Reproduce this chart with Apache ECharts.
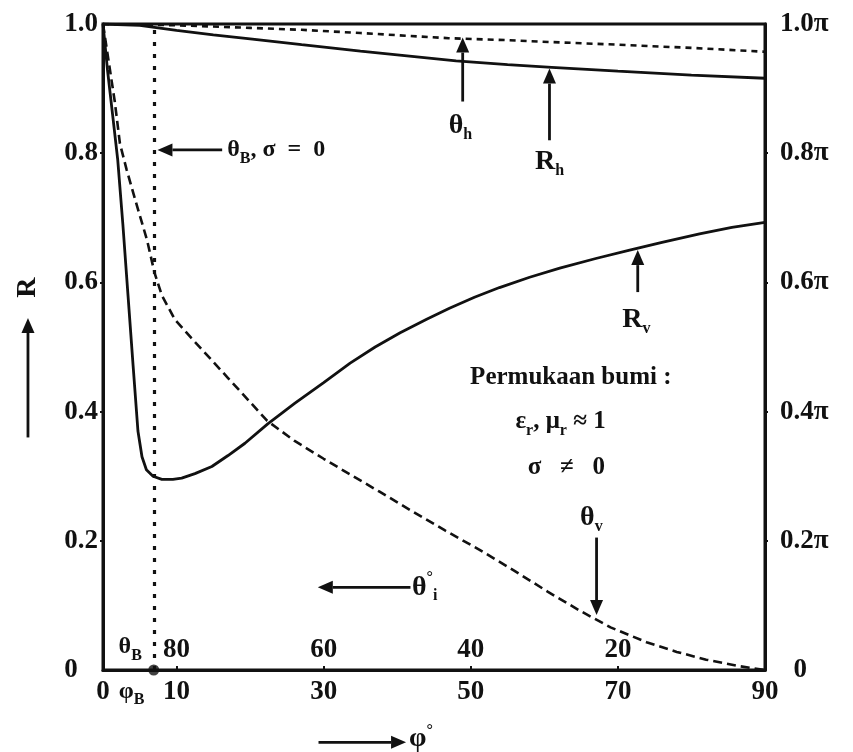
<!DOCTYPE html>
<html>
<head>
<meta charset="utf-8">
<script src="https://cdn.jsdelivr.net/npm/echarts@6/dist/echarts.min.js"></script>
<style>
  html, body { margin: 0; padding: 0; background: #fff; }
  #chart { width: 853px; height: 752px; }
</style>
</head>
<body>
<div id="chart"></div>
<script>
// Incidence angle φ (degrees) and reflection magnitude / phase over the earth's surface
const phiRv = [0, 0.6, 1.3, 2.0, 2.7, 3.4, 4.1, 4.75, 5.3, 5.9, 6.8, 8.0, 9.5, 10.7, 12.5, 14.8, 17, 19.3, 22.4, 26.1, 30, 33.6, 37, 40.4, 44, 47.1, 50.5, 53.9, 58, 62.1, 67, 71.6, 76, 81.1, 85.5, 90];
const Rv    = [1.0, 0.93, 0.86, 0.79, 0.69, 0.58, 0.47, 0.37, 0.33, 0.31, 0.30, 0.295, 0.295, 0.297, 0.304, 0.315, 0.332, 0.351, 0.381, 0.413, 0.445, 0.475, 0.50, 0.522, 0.543, 0.56, 0.577, 0.592, 0.608, 0.622, 0.637, 0.65, 0.662, 0.675, 0.685, 0.693];

const phiTv = [0, 1.6, 2.3, 3.2, 4.2, 5.1, 6.0, 7.0, 8.0, 9.8, 12, 14.5, 17, 19.5, 22.3, 26, 30, 34, 37.6, 42, 46.5, 51.2, 56, 60.5, 64.8, 69, 73.9, 78, 82, 86.5, 90];
const Tv    = [1.0, 0.88, 0.815, 0.775, 0.735, 0.70, 0.665, 0.615, 0.58, 0.542, 0.514, 0.483, 0.452, 0.421, 0.386, 0.355, 0.327, 0.30, 0.276, 0.246, 0.216, 0.186, 0.153, 0.121, 0.092, 0.066, 0.043, 0.028, 0.016, 0.006, 0];

const phiRh = [0, 5, 10, 15, 20, 27, 35, 42, 48, 55, 61, 70, 80, 90];
const Rh    = [1.0, 0.998, 0.99, 0.983, 0.977, 0.968, 0.958, 0.95, 0.943, 0.937, 0.933, 0.927, 0.921, 0.916];

const phiTh = [0, 10, 20, 27, 35, 47, 55, 61, 70, 80, 90];
const Th    = [1.0, 0.998, 0.994, 0.991, 0.986, 0.978, 0.975, 0.972, 0.968, 0.963, 0.957];

// Brewster angle for a lossless surface (degrees)
const phiBrewster = 6.9;

// Tick labels
const phiTicks = [0, 10, 30, 50, 70, 90];
const thetaITicks = [80, 60, 40, 20];
const rTicks = [0, 0.2, 0.4, 0.6, 0.8, 1.0];

const zip = (xs, ys) => xs.map((x, i) => [x, ys[i]]);

const FONT = 'Liberation Serif';
const INK = '#111';
const lbl = { color: INK, fontFamily: FONT, fontWeight: 'bold', fontSize: 27 };

const chart = echarts.init(document.getElementById('chart'), null, { renderer: 'canvas' });

chart.setOption({
  animation: false,
  backgroundColor: '#fff',
  grid: { left: 103, right: 88, top: 24, bottom: 82, show: true, borderColor: INK, borderWidth: 3 },
  xAxis: [
    {
      type: 'value', min: 0, max: 90, interval: 10, position: 'bottom',
      axisLine: { show: true, lineStyle: { color: INK, width: 3 } },
      axisTick: { show: true, inside: true, length: 4, customValues: [10, 30, 50, 70], lineStyle: { color: INK, width: 2 } },
      axisLabel: Object.assign({ customValues: phiTicks, margin: 9 }, lbl),
      splitLine: { show: false }
    },
    {
      // complementary angle θi = 90° − φ, read right-to-left inside the plot
      type: 'value', min: 0, max: 90, interval: 10, inverse: true, position: 'bottom',
      axisLine: { show: false }, axisTick: { show: false },
      axisLabel: Object.assign({ customValues: thetaITicks, inside: true, margin: 6 }, lbl),
      splitLine: { show: false }
    }
  ],
  yAxis: [
    {
      type: 'value', min: 0, max: 1, interval: 0.2, position: 'left',
      axisLine: { show: true, lineStyle: { color: INK, width: 3 } },
      axisTick: { show: true, length: 3, customValues: [0.2, 0.4, 0.6, 0.8], lineStyle: { color: INK, width: 2 } },
      axisLabel: Object.assign({ customValues: rTicks, margin: 5,
        formatter: v => v === 0 ? '0   ' : v.toFixed(1) }, lbl),
      splitLine: { show: false }
    },
    {
      type: 'value', min: 0, max: 1, interval: 0.2, position: 'right',
      axisLine: { show: true, lineStyle: { color: INK, width: 3 } },
      axisTick: { show: true, length: 3, customValues: [0.2, 0.4, 0.6, 0.8], lineStyle: { color: INK, width: 2 } },
      axisLabel: Object.assign({ customValues: rTicks, margin: 15,
        formatter: v => v === 0 ? '  0' : v.toFixed(1) + 'π' }, lbl),
      splitLine: { show: false }
    }
  ],
  series: [
    {
      name: 'Rv', type: 'line', xAxisIndex: 0, yAxisIndex: 0, data: zip(phiRv, Rv),
      showSymbol: false, smooth: false,
      lineStyle: { color: INK, width: 2.8 },
      markLine: {
        silent: true, symbol: ['none', 'none'], label: { show: false },
        lineStyle: { color: INK, width: 3.2, type: [4, 8] },
        data: [{ xAxis: phiBrewster }]
      }
    },
    {
      name: 'Rh', type: 'line', xAxisIndex: 0, yAxisIndex: 0, data: zip(phiRh, Rh),
      showSymbol: false, smooth: false, lineStyle: { color: INK, width: 2.8 }
    },
    {
      name: 'θv', type: 'line', xAxisIndex: 0, yAxisIndex: 1, data: zip(phiTv, Tv),
      showSymbol: false, smooth: false,
      lineStyle: { color: INK, width: 2.6, type: [9, 5] }
    },
    {
      name: 'θh', type: 'line', xAxisIndex: 0, yAxisIndex: 1, data: zip(phiTh, Th),
      showSymbol: false, smooth: false, lineStyle: { color: INK, width: 2.6, type: [6, 5] }
    },
    {
      name: 'Brewster', type: 'scatter', xAxisIndex: 0, yAxisIndex: 0,
      data: [[phiBrewster, 0]], symbol: 'circle', symbolSize: 11,
      itemStyle: { color: INK }, z: 5
    }
  ]
});

// ---- annotations (placed in data coordinates) ----
const px = (x, y) => chart.convertToPixel({ xAxisIndex: 0, yAxisIndex: 0 }, [x, y]);

function arrow(from, to, head, width) {
  const a = px(from[0], from[1]);
  const b = px(to[0], to[1]);
  const dx = b[0] - a[0], dy = b[1] - a[1];
  const len = Math.hypot(dx, dy);
  const ux = dx / len, uy = dy / len;
  const hl = head || 15, hw = width || 6.5;
  const base = [b[0] - ux * hl, b[1] - uy * hl];
  return [
    { type: 'line', shape: { x1: a[0], y1: a[1], x2: base[0], y2: base[1] }, style: { stroke: INK, lineWidth: 2.8 } },
    { type: 'polygon', shape: { points: [b, [base[0] - uy * hw, base[1] + ux * hw], [base[0] + uy * hw, base[1] - ux * hw]] }, style: { fill: INK } }
  ];
}

const rich = {
  m: { fontFamily: FONT, fontWeight: 'bold', fontSize: 28, fill: INK, color: INK },
  s: { fontFamily: FONT, fontWeight: 'bold', fontSize: 16, fill: INK, color: INK, verticalAlign: 'bottom', padding: [18, 0, 0, 0] },
  u: { fontFamily: FONT, fontWeight: 'bold', fontSize: 16, fill: INK, color: INK, verticalAlign: 'top', padding: [0, 0, 16, 0] },
  t: { fontFamily: FONT, fontWeight: 'bold', fontSize: 25, fill: INK, color: INK },
  k: { fontFamily: FONT, fontWeight: 'bold', fontSize: 24, fill: INK, color: INK }
};

function text(x, y, str, align, rot) {
  const p = px(x, y);
  return {
    type: 'text', x: p[0], y: p[1], rotation: rot || 0,
    style: { text: str, rich: rich, align: align || 'center', verticalAlign: 'middle', fill: INK }
  };
}

const g = [];
// Brewster angle marker
g.push(...arrow([16.2, 0.805], [7.4, 0.805]));
g.push(text(16.9, 0.805, '{k|θ}{s|B}{k|, σ  =  0}', 'left'));
// θh
g.push(...arrow([48.9, 0.88], [48.9, 0.979]));
g.push(text(48.6, 0.842, '{m|θ}{s|h}'));
// Rh
g.push(...arrow([60.7, 0.82], [60.7, 0.931]));
g.push(text(60.7, 0.786, '{m|R}{s|h}'));
// Rv
g.push(...arrow([72.7, 0.585], [72.7, 0.65]));
g.push(text(72.5, 0.542, '{m|R}{s|v}'));
// surface description
g.push(text(63.6, 0.452, '{t|Permukaan bumi :}'));
g.push(text(62.2, 0.384, '{t|ε}{s|r}{t|, μ}{s|r}{t| ≈ 1}'));
g.push(text(63.0, 0.314, '{t|σ   ≠   0}'));
// θv
g.push(text(66.4, 0.236, '{m|θ}{s|v}'));
g.push(...arrow([67.1, 0.205], [67.1, 0.085]));
// θi direction
g.push(...arrow([41.8, 0.128], [29.2, 0.128]));
g.push(text(42.0, 0.128, '{m|θ}{u|°}{s|i}', 'left'));
// Brewster labels at the foot of the dotted line
g.push(text(3.7, 0.036, '{k|θ}{s|B}'));
g.push(text(3.9, -0.033, '{k|φ}{s|B}'));
// horizontal axis direction
g.push(...arrow([29.3, -0.112], [41.2, -0.112]));
g.push(text(41.6, -0.106, '{m|φ}{u|°}', 'left'));
// vertical axis name
g.push(text(-10.2, 0.592, '{m|R}', 'center', Math.PI / 2));
g.push(...arrow([-10.2, 0.36], [-10.2, 0.545]));

chart.setOption({ graphic: { elements: g } });
</script>
</body>
</html>
